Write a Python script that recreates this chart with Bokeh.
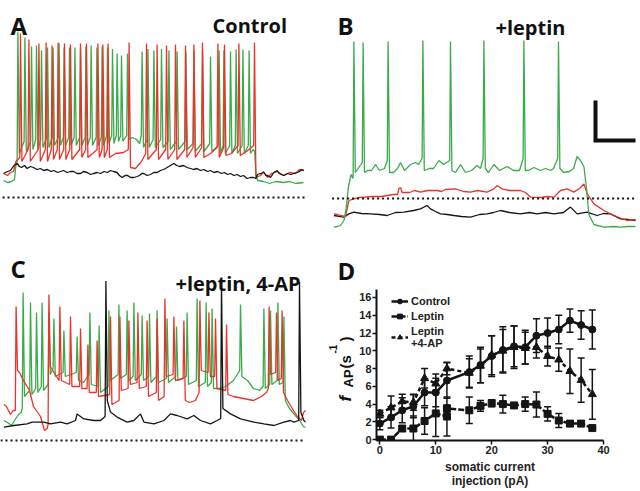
from bokeh.plotting import figure
from bokeh.layouts import row, column
from bokeh.models import (Range1d, Label, Whisker, TeeHead, ColumnDataSource,
                          Legend, LegendItem, FixedTicker)
from bokeh.embed import file_html
from bokeh.resources import INLINE

# ---------------- data: panel D (f_AP vs somatic current) ----------------
ctrl_x = [0, 2, 4, 6, 8, 10, 12, 16, 18, 20, 22, 24, 26, 28, 30, 32, 34, 36, 38]
ctrl_y = [1.8, 2.5, 3.3, 3.75, 5.3, 5.3, 6.65, 7.6, 8.4, 9.4, 10.1, 10.5, 10.4, 11.7, 12.0, 12.4, 13.4, 12.9, 12.4]
ctrl_err = [0.7, 1.2, 1.4, 1.3, 1.5, 1.6, 2.0, 1.8, 2.0, 2.3, 2.6, 2.3, 1.9, 1.9, 1.7, 1.6, 1.3, 1.6, 2.2]

lep_x = [0, 2, 4, 6, 8, 10, 12, 12, 16, 18, 20, 22, 24, 26, 28, 30, 32, 34, 36, 38]
lep_y = [0, 0, 1.25, 1.25, 2.1, 2.95, 2.6, 3.5, 3.3, 3.8, 4.1, 4.0, 3.85, 4.0, 3.95, 2.9, 2.15, 1.8, 1.8, 1.3]
lep_err = [0, 0, 0.3, 1.4, 1.5, 2.6, 2.2, 0.4, 1.5, 0.6, 0.4, 1.0, 0.3, 0.8, 1.4, 0.8, 0.8, 0.3, 0.3, 0.1]

ap_x = [0, 2, 4, 6, 8, 10, 12, 16, 18, 20, 22, 24, 26, 28, 30, 32, 34, 36, 38]
ap_y = [2.9, 3.6, 4.3, 4.2, 6.9, 6.3, 8.0, 7.5, 8.3, 9.5, 10.0, 10.4, 10.3, 10.4, 9.4, 9.0, 7.7, 6.7, 5.1]
ap_err = [0.4, 1.3, 0.8, 0.9, 1.1, 1.1, 0.7, 1.6, 1.9, 2.2, 2.4, 2.4, 1.8, 1.2, 1.1, 1.3, 2.5, 2.5, 2.8]

x_ticks = [0, 10, 20, 30, 40]
y_ticks = [0, 2, 4, 6, 8, 10, 12, 14, 16]
legend_labels = ["Control", "Leptin", "Leptin\n+4-AP"]

# ---------------- data: voltage traces (time ms, membrane potential mV) ----------------
# Panel A (control)
ga_base = [(0, -61.5), (20, -62.5), (40, -62), (55, -61), (62, -54),
           (645, -40), (665, -41), (680, -43),
           (1248, -46), (1256, -47), (1262, -58), (1270, -61.5), (1300, -62), (1330, -63),
           (1360, -62), (1400, -62.5), (1430, -62), (1460, -63), (1500, -62.5)]
ga_t = [72, 107, 140, 165, 190, 220, 248, 278, 303, 330, 357, 385, 412, 438, 467, 493, 520, 545, 568,
        590, 620, 693, 722, 752, 790, 827, 868, 912, 952, 995, 1035, 1078, 1102, 1135, 1163, 1197, 1228]
ga_pk = [13, 10, 5.5, 6, 3.5, 5, 5, 7, 5, 5, 5, 5, 5.5, 6, 5, 5.5, 5, 4.3, 2,
         1, 2, 3, 4.3, 3.5, 4.3, 3.5, 3, 3, 3.5, 3.5, 0.5, 3.5, 3.5, 3, 4, 4, 3.5]
ga_pre = [-52, -42, -42, -41, -41, -40, -40, -40, -40, -40, -40, -40, -40, -40, -40, -40, -39, -39, -39,
          -39, -39, -39, -41, -41, -41, -42, -42, -42, -43, -43, -43, -44, -44, -44, -44, -44, -44]
ga_ahp = [-48, -47, -46, -46, -45, -45, -44, -44, -44, -44, -44, -44, -44, -44, -44, -44, -43, -43, -42,
          -42, -41, -45, -45, -45, -45, -46, -46, -46, -47, -47, -47, -48, -48, -48, -48, -48, -48]

ra_base = [(0, -58), (20, -59), (35, -57.5), (50, -57), (62, -52),
           (560, -48), (600, -47.5), (660, -55.5), (690, -52), (1035, -48), (1140, -48), (1215, -47),
           (1285, -59), (1300, -57), (1320, -60), (1340, -58), (1370, -57), (1400, -59),
           (1430, -57.5), (1460, -58), (1480, -56), (1500, -56.5)]
ra_t = [85, 127, 177, 213, 243, 273, 305, 335, 385, 415, 472, 497, 523, 628, 715, 768, 815, 860,
        910, 952, 995, 1072, 1105, 1177, 1255]
ra_pk = [12, 9, 7, 7.5, 6, 7.5, 7, 6.5, 7, 7, 7, 6.5, 7, 7.5, 7, 6.5, 6, 6.5, 6, 6.5, 7.5, 7, 6.5, 7, 7.5]
ra_pre = [-50, -46, -46, -46, -46, -46, -46, -46, -46, -46, -46, -46, -46, -46, -48, -46, -46, -46,
          -46, -45, -45, -45, -45, -44, -44]
ra_ahp = [-52, -52, -52, -52, -51, -51, -51, -51, -50, -50, -50, -50, -50, -55, -51, -51, -51, -51,
          -50, -50, -50, -50, -49, -49, -60]

ka_base = [(0, -58), (10, -57.5), (20, -57), (35, -56.5), (52, -54), (68, -53), (80, -54.5), (90, -55),
           (105, -54), (118, -55.5), (135, -54.5), (150, -55), (168, -56), (185, -55.5), (200, -56.5),
           (220, -56), (237, -57), (252, -56.5), (270, -57.5), (285, -57), (300, -56.5), (318, -57.5),
           (335, -57), (350, -57), (368, -58), (385, -58), (400, -57), (418, -57.5), (435, -58.5),
           (450, -58), (468, -57.5), (485, -58), (503, -57), (520, -57.5), (535, -56.5), (550, -57),
           (568, -57.5), (580, -59), (593, -60), (608, -59), (620, -59), (636, -60), (652, -60),
           (668, -59.5), (680, -59), (692, -58), (702, -58), (718, -59), (735, -58.5), (752, -57.5),
           (768, -57.5), (785, -56.5), (800, -56), (810, -55.5), (818, -55), (835, -54), (852, -53),
           (866, -54), (880, -54.5), (900, -54), (918, -55), (935, -55.5), (950, -56), (968, -55.5),
           (985, -56.5), (1002, -56), (1020, -57), (1035, -56.5), (1052, -57.5), (1070, -57),
           (1090, -58), (1105, -57.5), (1120, -58.5), (1135, -58), (1152, -59), (1168, -58.5),
           (1185, -59.5), (1200, -59), (1218, -60.5), (1235, -60), (1250, -60), (1262, -60.5),
           (1270, -58.5), (1285, -58), (1302, -57.5), (1312, -59), (1320, -59), (1335, -60),
           (1345, -58.5), (1352, -57.5), (1368, -56.5), (1378, -58), (1390, -58.5), (1402, -59),
           (1420, -58), (1436, -58.5), (1452, -58), (1468, -57.5), (1480, -57), (1492, -56), (1502, -56.5)]

# Panel B (+leptin)
gb_base = [(2, -84.3), (20, -84), (35, -83.5), (52, -81), (62, -76), (75, -64), (88, -58),
           (170, -56), (190, -56), (210, -53), (230, -56), (255, -55),
           (300, -57), (320, -55), (335, -52), (355, -56), (385, -53), (410, -52), (425, -53),
           (480, -55), (500, -55), (527, -51), (550, -53),
           (610, -57), (635, -53), (660, -57), (690, -56), (718, -53.5), (735, -55),
           (775, -57), (802, -53), (830, -56), (868, -54), (900, -56), (930, -56),
           (975, -56), (1002, -54.5), (1035, -56), (1060, -55), (1085, -56), (1100, -55),
           (1150, -57), (1180, -56.5), (1200, -55), (1218, -49), (1235, -51), (1252, -54),
           (1265, -65), (1277, -78), (1302, -83), (1352, -84.3), (1400, -84), (1435, -84.3),
           (1470, -84), (1510, -84)]
gb_t = [102, 148, 273, 447, 585, 752, 952, 1125]
gb_pk = [8.5, 8, 8.5, 9, 8.5, 9, 9, 8.5]
gb_pre = [-60, -52, -51, -50, -51, -50, -50, -50]
gb_ahp = [-57, -57, -57, -56, -56, -55, -56, -55]

rb_base = [(2, -77.7), (20, -78), (35, -78.5), (60, -79), (77, -71), (102, -70.2), (125, -69.5),
           (152, -69.3), (200, -69), (240, -69), (268, -68.5), (300, -68), (320, -68), (327, -65),
           (335, -64.5), (343, -67), (380, -67), (405, -66), (435, -66.8), (470, -66), (518, -66),
           (540, -66.5), (560, -65.5), (610, -65.2), (650, -66.5), (685, -66.8), (720, -66),
           (768, -66.8), (802, -65.2), (818, -63.5), (843, -65.2), (880, -66), (935, -66),
           (960, -67), (985, -69.3), (1040, -69.5), (1070, -69), (1102, -69.3), (1135, -66),
           (1168, -65.2), (1202, -66.8), (1230, -65), (1252, -62.7), (1268, -67.5), (1302, -72.7),
           (1352, -76), (1402, -78.5), (1440, -80), (1468, -81), (1510, -80.5)]

kb_base = [(2, -78.5), (52, -79.3), (77, -77.7), (102, -76.8), (140, -77.5), (185, -77.7), (230, -78),
           (268, -78.5), (310, -77), (352, -76.8), (400, -76), (435, -75.2), (468, -73.5), (485, -75.2),
           (510, -76.5), (535, -77.7), (570, -78), (602, -78.5), (640, -79), (685, -79.3), (730, -78),
           (768, -77.7), (800, -77), (835, -76), (880, -77), (935, -77.7), (980, -77), (1018, -77.7),
           (1060, -77), (1102, -77.7), (1150, -77), (1185, -74.3), (1218, -77.7), (1268, -76.8),
           (1318, -78.5), (1350, -77.5), (1385, -77.7), (1435, -80.2), (1470, -80.5), (1510, -81)]

# Panel C (+leptin, 4-AP)
gc_base = [(2, -60), (20, -61), (40, -62.5), (55, -60), (75, -57), (88, -56), (400, -41),
           (1080, -44), (1110, -43), (1150, -40), (1220, -40), (1250, -44), (1280, -45),
           (1430, -54), (1455, -57), (1480, -60), (1500, -63), (1510, -63.5)]
gc_t = [98, 135, 165, 193, 227, 252, 302, 368, 432, 478, 527, 577, 618, 652, 693, 730, 768, 818,
        865, 918, 968, 1013, 1043, 1185, 1302, 1335, 1372, 1402]
gc_pk = [4, -1, -6, -1, -6, -9, -15, -18, -6, -12.5, -5, -2, -5, -1, -7.5, -6.5, -5, -9,
         -13, -6, 1, -1, -4, -2, -4, -5, -1, -8]
gc_pre = [-54, -45, -44, -43, -42, -34, -36, -36, -37, -43, -43, -37, -37, -38, -37, -38, -38, -39,
          -38, -38, -40, -41, -41, -35, -43, -42, -40, -41]
gc_ahp = [-48, -47, -46, -45, -37, -38, -38, -40, -42, -46, -40, -39, -40, -40, -40, -41, -41, -41,
          -40, -42, -43, -43, -44, -38, -44, -42, -42, -50]

rc_base = [(2, -52), (15, -53), (35, -57), (48, -55), (80, -36), (100, -40), (130, -45), (150, -53),
           (185, -58), (205, -65), (218, -64), (930, -51), (960, -50),
           (1150, -48), (1200, -49), (1250, -50), (1290, -48), (1315, -46),
           (1420, -50), (1450, -55), (1470, -58), (1490, -60), (1500, -56), (1510, -55)]
rc_t = [63, 227, 282, 335, 385, 422, 468, 535, 582, 627, 672, 718, 768, 807, 852, 902, 982, 1027,
        1060, 1115, 1328, 1365, 1393]
rc_pk = [-3, 3, -3, -8, -14, -22, -20, -8, -8, -10, -6, -10, -9, 1, -8, -10, 0, -6, -9, -12, -3, -6, -5]
rc_pre = [-55, -62, -40, -42, -43, -44, -46, -47, -50, -44, -41, -43, -46, -48, -37, -39, -46, -36,
          -38, -45, -44, -36, -39]
rc_ahp = [-35, -33, -40, -43, -44, -46, -48, -52, -45, -42, -44, -48, -50, -38, -40, -50, -35, -38,
          -44, -47, -37, -40, -46]

kc_base = [(2, -63.3), (52, -62.5), (118, -61.7), (143, -60.8), (202, -60.8), (235, -61.7),
           (285, -60.8), (318, -61.7), (360, -60), (368, -56.7), (402, -59.2), (452, -60), (485, -60),
           (535, -55.8), (568, -58.3), (618, -60.8), (652, -60), (685, -56.7), (702, -60.8),
           (752, -61.7), (802, -60), (835, -56.7), (868, -57.5), (918, -59.2), (952, -57.5),
           (985, -60), (1035, -61.7), (1068, -60), (1135, -56.7), (1185, -59.2), (1252, -60.8),
           (1302, -61.7), (1352, -62.5), (1402, -60.8), (1435, -60), (1452, -60.8), (1502, -60),
           (1510, -60.8)]
kc_t = [512, 1090, 1480]
kc_pk = [9.7, 9.2, 9.2]
kc_pre = [-58, -59, -60]
kc_ahp = [-50, -54, -56]

rest_mV = -70          # dotted reference level
scalebar_ms = 200
scalebar_mV = 20

GREEN = "#3aaa4a"
RED = "#e8342b"
BLACK = "#151515"
HEAD_FONT = "Open Sans"
AX_FONT = "Liberation Sans"


def trace_xy(base, spk_t=(), spk_pk=(), spk_pre=(), spk_ahp=()):
    pts = list(base)
    for t, pk, pre, ahp in zip(spk_t, spk_pk, spk_pre, spk_ahp):
        pts += [(t - 4, pre), (t, pk), (t + 7, ahp)]
    pts.sort(key=lambda q: q[0])
    return [q[0] for q in pts], [q[1] for q in pts]


def bare_fig(xr, yr, w, h):
    p = figure(width=w, height=h, x_range=Range1d(*xr), y_range=Range1d(*yr),
               toolbar_location=None, output_backend="svg", min_border=0,
               x_axis_location=None, y_axis_location=None, outline_line_color=None)
    p.grid.visible = False
    return p


def lab(p, x, y, text, size, style="bold", font=HEAD_FONT, angle=0, align="left"):
    p.add_layout(Label(x=x, y=y, text=text, text_font=font, text_font_size=f"{size}px",
                       text_font_style=style, text_color="#111111", text_baseline="alphabetic",
                       text_align=align, angle=angle))


def draw_trace(p, color, *args):
    xs, ys = trace_xy(*args)
    p.line(xs, ys, line_color=color, line_width=1.3)


def dotted(p, x0, x1):
    p.line([x0, x1], [rest_mV, rest_mV], line_color="#111111", line_width=2.2, line_dash="2 3")


# ---------------- Panel A ----------------
pA = bare_fig((-15, 1585), (-94, 28.5), 320, 245)
draw_trace(pA, GREEN, ga_base, ga_t, ga_pk, ga_pre, ga_ahp)
draw_trace(pA, RED, ra_base, ra_t, ra_pk, ra_pre, ra_ahp)
draw_trace(pA, BLACK, ka_base)
dotted(pA, -5, 1510)
lab(pA, 35, 16, "A", 24)
lab(pA, 1045, 16, "Control", 20)

# ---------------- Panel B ----------------
pB = bare_fig((-65, 1535), (-93.5, 29), 320, 245)
draw_trace(pB, BLACK, kb_base)
draw_trace(pB, RED, rb_base)
draw_trace(pB, GREEN, gb_base, gb_t, gb_pk, gb_pre, gb_ahp)
dotted(pB, -7, 1510)
sb_x0, sb_y0 = 1310, -41
pB.line([sb_x0, sb_x0, sb_x0 + scalebar_ms], [sb_y0 + scalebar_mV, sb_y0, sb_y0],
        line_color="#111111", line_width=4, line_join="miter")
lab(pB, 20, 16.5, "B", 24)
lab(pB, 810, 15.5, "+leptin", 20)

# ---------------- Panel C ----------------
pC = bare_fig((-15, 1585), (-95.5, 27.5), 320, 246)
draw_trace(pC, GREEN, gc_base, gc_t, gc_pk, gc_pre, gc_ahp)
draw_trace(pC, RED, rc_base, rc_t, rc_pk, rc_pre, rc_ahp)
draw_trace(pC, BLACK, kc_base, kc_t, kc_pk, kc_pre, kc_ahp)
dotted(pC, -15, 1510)
lab(pC, 35, 16, "C", 24)
lab(pC, 860, 8.5, "+leptin, 4-AP", 20)

# ---------------- Panel D ----------------
# left strip holding the panel letter and the y-axis title (pixel units, bottom-up)
pDlab = bare_fig((0, 36), (0, 246), 36, 246)
lab(pDlab, 17, 221, "D", 24)
rot = 1.5708
lab(pDlab, 25, 90, "f", 17, style="bold italic", font=AX_FONT, angle=rot)
lab(pDlab, 28, 104, "AP", 13, font=AX_FONT, angle=rot)
lab(pDlab, 25, 123, "(", 15, font=AX_FONT, angle=rot)
lab(pDlab, 25, 128, "s", 15, font=AX_FONT, angle=rot)
lab(pDlab, 13, 138, "-1", 10, font=AX_FONT, angle=rot)
lab(pDlab, 25, 150, ")", 15, font=AX_FONT, angle=rot)

pD = figure(width=284, height=246, x_range=Range1d(-0.6, 40), y_range=Range1d(-0.1, 16.9),
            toolbar_location=None, output_backend="svg", min_border_left=17,
            min_border_right=37, min_border_top=44, min_border_bottom=51,
            outline_line_color=None)
pD.grid.visible = False
for ax in (pD.xaxis[0], pD.yaxis[0]):
    ax.axis_line_width = 2
    ax.axis_line_color = "#111111"
    ax.major_tick_line_width = 1.5
    ax.major_tick_line_color = "#111111"
    ax.major_tick_out = 4
    ax.major_tick_in = 0
    ax.minor_tick_line_color = None
    ax.major_label_text_font = AX_FONT
    ax.major_label_text_font_style = "bold"
    ax.major_label_text_font_size = "11px"
    ax.major_label_text_color = "#222222"
    ax.major_label_standoff = 1
pD.xaxis.ticker = FixedTicker(ticks=x_ticks)
pD.yaxis.ticker = FixedTicker(ticks=y_ticks)
pD.xaxis.axis_label = "somatic current\ninjection (pA)"
pD.xaxis.axis_label_text_font = AX_FONT
pD.xaxis.axis_label_text_font_style = "bold"
pD.xaxis.axis_label_text_font_size = "12px"
pD.xaxis.axis_label_text_color = "#222222"
pD.xaxis.axis_label_text_line_height = 1.05
pD.xaxis.axis_label_standoff = 3

series = [
    (ctrl_x, ctrl_y, ctrl_err, "circle", 7, "solid"),
    (lep_x, lep_y, lep_err, "square", 7, "6 2"),
    (ap_x, ap_y, ap_err, "triangle", 8, "4 3"),
]
items = []
for (xs, ys, es, mk, sz, dash), name in zip(series, legend_labels):
    src = ColumnDataSource(dict(x=xs, y=ys,
                                upper=[a + b for a, b in zip(ys, es)],
                                lower=[a - b for a, b in zip(ys, es)]))
    pD.add_layout(Whisker(source=src, base="x", upper="upper", lower="lower",
                          line_width=1.5, line_color="#151515",
                          upper_head=TeeHead(size=7, line_width=1.5, line_color="#151515"),
                          lower_head=TeeHead(size=7, line_width=1.5, line_color="#151515")))
    lr = pD.line("x", "y", source=src, line_width=2.5, line_color="#151515", line_dash=dash)
    sr = pD.scatter("x", "y", source=src, marker=mk, size=sz, fill_color="#151515",
                    line_color="#151515")
    items.append(LegendItem(label=name, renderers=[lr, sr]))

legend = Legend(items=items, location=(15, 91), orientation="vertical",
                label_text_font=AX_FONT, label_text_font_style="bold",
                label_text_font_size="11px", label_text_color="#222222",
                label_text_line_height=1.0,
                glyph_width=17, glyph_height=12, label_height=12, label_standoff=3,
                spacing=3, padding=0, margin=0,
                background_fill_alpha=0, border_line_alpha=0)
pD.add_layout(legend)

page = column(row(pA, pB), row(pC, row(column(pDlab), pD)))
open("out.html", "w").write(file_html(page, INLINE))
